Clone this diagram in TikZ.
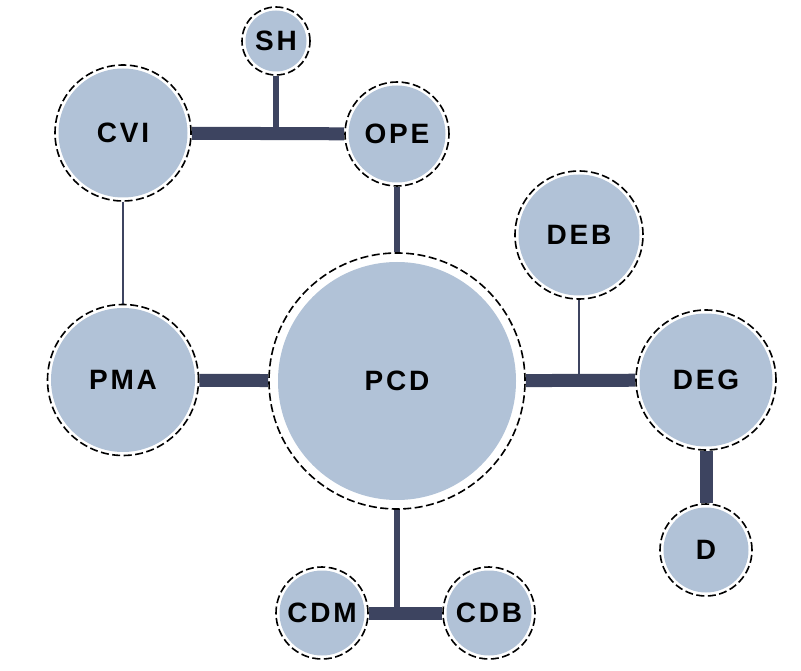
\documentclass[tikz,border=0pt]{standalone}
\usepackage{fontspec}
\newfontfamily\unitfont[LetterSpace=10]{Liberation Sans}
\usetikzlibrary{backgrounds}
\definecolor{unitfill}{HTML}{B1C2D7}
\definecolor{barcol}{HTML}{3D4460}

\begin{document}
\begin{tikzpicture}
      [%%%%%%%%%%%%%%%%%%%%%%%%%%%%%%
      x=1pt, y=-1pt,
      unit/.style 2 args={circle, draw=black, fill=white, line width=1.6pt,
        dash pattern=on 8pt off 3.5pt, minimum size=#1, inner sep=0pt,
        font=\unitfont\bfseries\fontsize{28}{30}\selectfont,
        path picture={\fill[unitfill] (path picture bounding box.center) circle[radius=#1/2-#2];}},
      thinbar/.style={draw=barcol, line width=2pt},
      midbar/.style={draw=barcol, line width=6pt},
      thickbar/.style={draw=barcol, line width=13pt},
      ]%%%%%%%%%%%%%%%%%%%%%%%%%%%%%%
      \useasboundingbox (0,0) rectangle (801,671);

      % circles
      \node[unit={68pt}{3.5pt}] (SH) at (276,41) {SH};
      \node[unit={104pt}{3.5pt}] (OPE) at (397,134) {OPE};
      \node[unit={136pt}{3.5pt}] (CVI) at (123,133) {CVI};
      \node[unit={256pt}{9pt}] (PCD) at (397,381) {PCD};
      \node[unit={128pt}{3.5pt}] (DEB) at (579,235) {DEB};
      \node[unit={140pt}{3.5pt}] (DEG) at (706,380) {DEG};
      \node[unit={92pt}{3.5pt}] (D) at (706,550) {D};
      \node[unit={151pt}{3.5pt}] (PMA) at (123,380) {PMA};
      \node[unit={92pt}{3.5pt}] (CDM) at (322,613) {CDM};
      \node[unit={92pt}{3.5pt}] (CDB) at (489,613) {CDB};

      % links
      \begin{scope}[on background layer]
      \draw[thickbar] (CVI) -- (OPE);
      \draw[midbar] (SH) -- (SH |- OPE);
      \draw[midbar] (OPE) -- (PCD);
      \draw[thinbar] (CVI) -- (PMA);
      \draw[thickbar] (PMA) -- (PCD);
      \draw[thickbar] (PCD) -- (DEG);
      \draw[thinbar] (DEB) -- (DEB |- DEG);
      \draw[thickbar] (DEG) -- (D);
      \draw[midbar] (PCD) -- (PCD |- CDM);
      \draw[thickbar] (CDM) -- (CDB);
      \end{scope}
    \end{tikzpicture}
\end{document}
